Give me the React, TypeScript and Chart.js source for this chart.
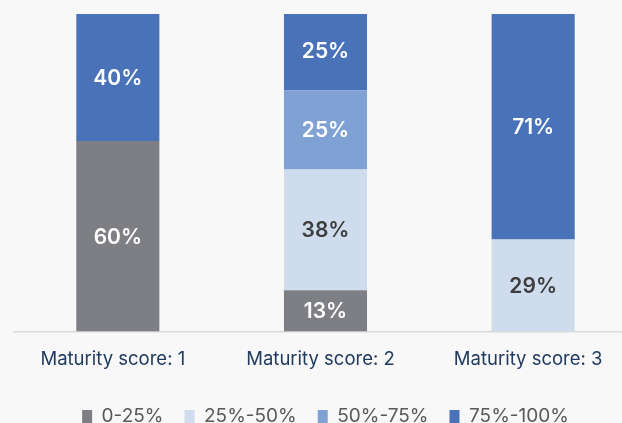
import React, { useEffect, useRef } from "react";
import { Chart, registerables } from "chart.js";

Chart.register(...registerables);

const categories = ["Maturity score: 1", "Maturity score: 2", "Maturity score: 3"];
const seriesNames = ["0-25%", "25%-50%", "50%-75%", "75%-100%"];
const s0to25 = [60, 13, 0];
const s25to50 = [0, 38, 29];
const s50to75 = [0, 25, 0];
const s75to100 = [40, 25, 71];

const colors = ["#7e7f84", "#cfdcee", "#7fa1d3", "#4a72b8"];
const labelColors = ["#ffffff", "#3d3d3d", "#ffffff", "#ffffff"];
const FONT = "Inter, 'Noto Sans', sans-serif";

const segmentLabels = {
  id: "segmentLabels",
  afterDatasetsDraw(chart: any) {
    const ctx = chart.ctx;
    ctx.save();
    ctx.font = `600 21px ${FONT}`;
    ctx.textAlign = "center";
    ctx.textBaseline = "middle";
    chart.data.datasets.forEach((ds: any, i: number) => {
      const meta = chart.getDatasetMeta(i);
      meta.data.forEach((el: any, j: number) => {
        const v = ds.data[j];
        if (!v) return;
        ctx.fillStyle = labelColors[i];
        ctx.fillText(`${v}%`, el.x, (el.y + el.base) / 2 + 1);
      });
    });
    ctx.restore();
  },
};

export default function App() {
  const ref = useRef<HTMLCanvasElement>(null);
  useEffect(() => {
    const values = [s0to25, s25to50, s50to75, s75to100];
    const chart = new Chart(ref.current!, {
      type: "bar",
      data: {
        labels: categories,
        datasets: seriesNames.map((name, i) => ({
          label: name,
          data: values[i],
          backgroundColor: colors[i],
          borderWidth: 0,
          categoryPercentage: 1,
          barPercentage: 0.4,
        })),
      },
      options: {
        animation: false,
        responsive: false,
        maintainAspectRatio: false,
        layout: { padding: { left: 14, right: 13, top: 14, bottom: 0 } },
        plugins: {
          tooltip: { enabled: false },
          legend: {
            position: "bottom",
            labels: {
              boxWidth: 10,
              boxHeight: 13,
              padding: 21,
              color: "#595959",
              font: { family: FONT, size: 19 },
            },
          },
        },
        scales: {
          x: {
            stacked: true,
            grid: { display: false, drawTicks: false },
            border: { display: true, color: "#d9d9d9", width: 1.5 },
            ticks: {
              padding: 17,
              labelOffset: -5,
              color: "#213a60",
              font: { family: FONT, size: 18.5 },
            },
            afterFit: (scale: any) => {
              scale.height = 54.5;
            },
          },
          y: {
            stacked: true,
            display: false,
            min: 0,
            max: 100,
          },
        },
      },
      plugins: [segmentLabels],
    });
    return () => chart.destroy();
  }, []);

  return (
    <div
      style={{
        position: "fixed",
        left: 0,
        top: 0,
        width: 622,
        height: 423,
        overflow: "hidden",
        background: "#f8f8f8",
      }}
    >
      <canvas ref={ref} width={650} height={436} style={{ display: "block" }} />
    </div>
  );
}
